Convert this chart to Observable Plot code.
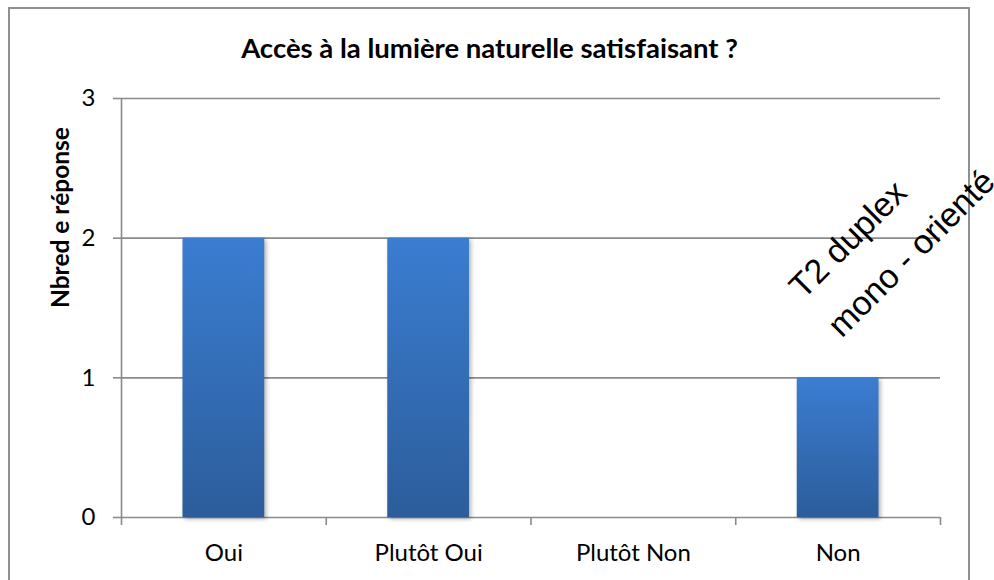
<!DOCTYPE html>
<html><head><meta charset="utf-8">
<script src="https://cdn.jsdelivr.net/npm/d3@7"></script>
<script src="https://cdn.jsdelivr.net/npm/@observablehq/plot@0.6"></script>
<style>
html,body{margin:0;padding:0;background:#fff;overflow:hidden}
#wrap{position:relative;width:994px;height:580px}
#border{position:absolute;left:8px;top:7px;width:962px;height:640px;border:2px solid #8f8f8f;box-sizing:border-box}
#chart{position:absolute;left:0;top:0}
</style></head><body>
<div id="wrap"><div id="border"></div><div id="chart"></div></div>
<script>
const title = "Accès à la lumière naturelle satisfaisant ?";
const yLabel = "Nbred e réponse";
const categories = ["Oui", "Plutôt Oui", "Plutôt Non", "Non"];
const values = [2, 2, 0, 1];
const yTicks = [0, 1, 2, 3];
const annotation = "T2 duplex\nmono - orienté";

const rows = categories.map((c, i) => ({i, c, v: values[i]}));
const boundaries = d3.range(categories.length + 1);
const centers = categories.map((c, i) => i + 0.5);

const ctx = document.createElement("canvas").getContext("2d");
function fit(text, weight, family, target) {
  ctx.font = `${weight} 100px ${family}`;
  return 100 * target / ctx.measureText(text).width;
}
const FONT = "Lato, 'Open Sans', sans-serif";
const titleSize = fit(title, "bold", "Lato", 497);
const labelSize = fit("Plutôt Non", "normal", "Lato", 115);
const yLabelSize = fit(yLabel, "bold", "Lato", 181);
const grey = "#8a8a8a";

const plot = Plot.plot({
  width: 994, height: 580,
  marginLeft: 121, marginRight: 54, marginTop: 98, marginBottom: 63,
  x: {domain: [0, categories.length], axis: null},
  y: {domain: [0, 3], axis: null},
  style: {fontFamily: FONT, color: "black", background: "transparent", overflow: "visible"},
  marks: [
    Plot.ruleY(yTicks, {stroke: grey, strokeWidth: 1.6}),
    Plot.ruleX([0], {stroke: grey, strokeWidth: 1.6}),
    Plot.rect(rows, {x1: "i", x2: d => d.i + 1, y1: 0, y2: "v", insetLeft: 61.5, insetRight: 61.5, fill: "url(#barGrad)"}),
    Plot.axisY(yTicks, {tickSize: 8, tickPadding: 18, stroke: grey, strokeWidth: 1.6, fontSize: labelSize, label: null, tickFormat: d => String(d)}),
    Plot.axisX(boundaries, {tickSize: 8, stroke: grey, strokeWidth: 1.6, tickFormat: () => "", label: null}),
    Plot.axisX(centers, {tickSize: 0, tickPadding: 560 - 517 - 0.71 * labelSize, fontSize: labelSize, tickFormat: d => categories[Math.floor(d)], label: null}),
    Plot.text([title], {frameAnchor: "top", dx: -41.5, dy: -41, lineAnchor: "bottom", fontWeight: "bold", fontSize: titleSize}),
    Plot.text([yLabel], {frameAnchor: "left", rotate: -90, dx: -53, lineAnchor: "bottom", fontWeight: "bold", fontSize: yLabelSize}),
    Plot.text([annotation], {x: 3, y: 1, dx: 106, dy: -39, rotate: -45, textAnchor: "start", lineAnchor: "bottom", lineHeight: 1.6, fontSize: 34, fontFamily: "'Liberation Sans', Arial, sans-serif"})
  ]
});

d3.select(plot).insert("defs", ":first-child").html(
  '<linearGradient id="barGrad" x1="0" y1="0" x2="0" y2="1">' +
  '<stop offset="0" stop-color="#3b7dd1"/><stop offset="1" stop-color="#2c5d9b"/></linearGradient>'
);
d3.select(plot).selectAll('g[aria-label="rect"] rect').style("filter", "drop-shadow(2px 2px 2px rgba(0,0,0,0.3))");
document.getElementById("chart").appendChild(plot);
</script>
</body></html>
